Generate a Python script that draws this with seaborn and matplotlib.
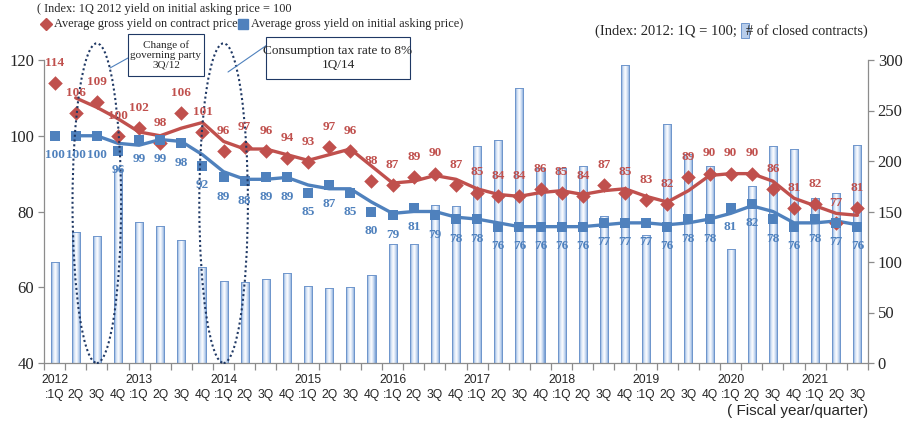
import numpy as np
import pandas as pd
import matplotlib
matplotlib.use("Agg")
import matplotlib.pyplot as plt
import seaborn as sns
from matplotlib.patches import Ellipse, Rectangle
from matplotlib.lines import Line2D
from matplotlib.colors import LinearSegmentedColormap

# ---------------- data ----------------
years = ["2012", "2013", "2014", "2015", "2016", "2017", "2018", "2019", "2020", "2021"]
quarter_names = [":1Q", "2Q", "3Q", "4Q"]
quarters = (quarter_names * 10)[:39]
year_of_quarter = [y for y in years for _ in range(4)][:39]

contract_yield = [114, 106, 109, 100, 102, 98, 106, 101, 96, 97, 96, 94, 93, 97, 96, 88,
                  87, 89, 90, 87, 85, 84, 84, 86, 85, 84, 87, 85, 83, 82, 89, 90,
                  90, 90, 86, 81, 82, 77, 81]
asking_yield = [100, 100, 100, 96, 99, 99, 98, 92, 89, 88, 89, 89, 85, 87, 85, 80,
                79, 81, 79, 78, 78, 76, 76, 76, 76, 76, 77, 77, 77, 76, 78, 78,
                81, 82, 78, 76, 78, 77, 76]
closed_contracts = [100, 130, 126, 192, 140, 136, 122, 95, 81, 80, 83, 89, 76, 74, 75, 87,
                    118, 118, 156, 155, 215, 221, 272, 193, 193, 195, 146, 295,
                    127, 237, 207, 195, 113, 175, 215, 212, 163, 168, 216]

RED = "#C0504D"
BLUE = "#4F81BD"
NAVY = "#1F3864"
GRAY = "#8C8C8C"

n = len(contract_yield)
df = pd.DataFrame({
    "pos": np.arange(n),
    "quarter": quarters,
    "contracts": closed_contracts,
    "contract": contract_yield,
    "asking": asking_yield,
})
# Excel-style 2-period moving-average trend lines
df["contract_ma"] = df["contract"].rolling(2).mean()
df["asking_ma"] = df["asking"].rolling(2).mean()

# ---------------- figure ----------------
sns.set_theme(style="white")
plt.rcParams["font.family"] = ["Liberation Serif", "DejaVu Sans"]
SANS = ["Liberation Sans", "DejaVu Sans"]

W, H = 910, 422
fig = plt.figure(figsize=(W / 100, H / 100), dpi=100)
fig.patch.set_facecolor("white")


def fx(x):
    return x / W


def fy(y):
    return 1 - y / H


L, R, T, B = 44, 868, 60, 363
ax = fig.add_axes([fx(L), fy(B), (R - L) / W, (B - T) / H])
ax2 = ax.twinx()

# bars (# of closed contracts) on the right-hand scale
sns.barplot(data=df, x="pos", y="contracts", ax=ax, native_scale=True, width=0.38,
            color="#C6D9F1", saturation=1, edgecolor="#6F96CC", linewidth=0.7)

cmap = LinearSegmentedColormap.from_list("bar", ["#739BD2", "#D3E2F5", "#FFFFFF", "#C4D7F0", "#739BD2"])
grad = np.linspace(0, 1, 64).reshape(1, -1)
for p in list(ax.patches):
    x0, y0 = p.get_x(), p.get_y()
    w, h = p.get_width(), p.get_height()
    im = ax.imshow(grad, extent=[x0, x0 + w, y0, y0 + h], cmap=cmap, aspect="auto",
                   zorder=1.5, interpolation="bilinear")
    im.set_clip_path(p)
    p.set_facecolor("none")
    p.set_zorder(2)

ax.set_xlim(-0.5, n - 0.5)
ax.set_ylim(0, 300)
ax.set_yticks(range(0, 301, 50))
ax.yaxis.tick_right()
ax.yaxis.set_label_position("right")
ax.set_xlabel("")
ax.set_ylabel("")

# yields on the left-hand scale
sns.lineplot(data=df, x="pos", y="contract_ma", ax=ax2, color=RED, lw=2.4, zorder=2)
sns.lineplot(data=df, x="pos", y="asking_ma", ax=ax2, color=BLUE, lw=2.4, zorder=2.1)
sns.scatterplot(data=df, x="pos", y="contract", ax=ax2, marker="D", s=55, color=RED,
                linewidth=0, zorder=3)
sns.scatterplot(data=df, x="pos", y="asking", ax=ax2, marker="s", s=55, color=BLUE,
                linewidth=0, zorder=3.1)
ax2.set_ylim(40, 120)
ax2.set_yticks(range(40, 121, 20))
ax2.yaxis.tick_left()
ax2.yaxis.set_label_position("left")
ax2.set_xlim(-0.5, n - 0.5)
ax2.set_xlabel("")
ax2.set_ylabel("")

for i, (c, a) in enumerate(zip(contract_yield, asking_yield)):
    ax2.annotate(f"{c}", (i, c), xytext=(0, 14.5), textcoords="offset points",
                 ha="center", va="center", fontsize=9.5, fontweight="bold", color=RED, zorder=6)
    ax2.annotate(f"{a}", (i, a), xytext=(0, -14), textcoords="offset points",
                 ha="center", va="center", fontsize=9.5, fontweight="bold", color=BLUE, zorder=6)

# axes styling
for s in ["top", "left"]:
    ax.spines[s].set_visible(False)
for s in ["top", "right", "bottom"]:
    ax2.spines[s].set_visible(False)
ax.spines["bottom"].set_color(GRAY)
ax.spines["right"].set_color(GRAY)
ax2.spines["left"].set_color(GRAY)
for s in ["bottom", "right"]:
    ax.spines[s].set_linewidth(0.9)
ax2.spines["left"].set_linewidth(0.9)

ax.tick_params(axis="y", which="major", direction="out", length=4, width=0.9, color=GRAY,
               labelsize=12, pad=3, right=True, left=False)
ax2.tick_params(axis="y", which="major", direction="out", length=4, width=0.9, color=GRAY,
                labelsize=12, pad=3, left=True, right=False)
ax.grid(False)
ax2.grid(False)

ax.set_xticks(df["pos"])
ax.set_xticklabels(quarters, fontfamily=SANS, fontsize=8.7)
ax.set_xticks(np.arange(-0.5, n, 1), minor=True)
ax.tick_params(axis="x", which="major", length=0, pad=18.5)
ax.tick_params(axis="x", which="minor", direction="out", length=5, width=0.9, color=GRAY, bottom=True)
ax2.tick_params(axis="x", which="both", bottom=False, labelbottom=False)

for i, q in enumerate(quarters):
    if q == ":1Q":
        ax.text(i, -0.056, year_of_quarter[i], transform=ax.get_xaxis_transform(),
                ha="center", va="center", fontsize=8.7, fontfamily=SANS)

fig.text(fx(868), fy(411), "( Fiscal year/quarter)", ha="right", va="center",
         fontsize=11, fontfamily=SANS)

# dotted ellipses marking events
for cx in [2, 8]:
    e = Ellipse((cx, 82.2), width=2.3, height=84.4, fill=False, edgecolor=NAVY,
                linestyle=(0, (1, 1.3)), lw=1.5, clip_on=False, zorder=5)
    ax2.add_patch(e)

# annotation boxes
boxes = [((128, 34, 76, 42), "Change of\ngoverning party\n3Q/12", 8.0),
         ((266, 37, 144, 42), "Consumption tax rate to 8%\n1Q/14", 9.5)]
for (bx, by, bw, bh), txt, fs in boxes:
    fig.add_artist(Rectangle((fx(bx), fy(by + bh)), bw / W, bh / H, transform=fig.transFigure,
                             facecolor="white", edgecolor=NAVY, lw=0.8, zorder=7))
    fig.text(fx(bx + bw / 2), fy(by + bh / 2), txt, ha="center", va="center",
             fontsize=fs, linespacing=1.15, zorder=8)
for (x1, y1, x2, y2) in [(128, 58, 110, 68), (267, 45, 228, 72)]:
    fig.add_artist(Line2D([fx(x1), fx(x2)], [fy(y1), fy(y2)], transform=fig.transFigure,
                          color=BLUE, lw=0.8))

# header texts / legend
fig.text(fx(37), fy(9), "( Index: 1Q 2012 yield on initial asking price = 100", ha="left",
         va="center", fontsize=8.8)
fig.add_artist(Line2D([fx(46)], [fy(24)], marker="D", markersize=6.5, color=RED,
                      transform=fig.transFigure, linestyle="none"))
fig.text(fx(54), fy(24), "Average gross yield on contract price", ha="left", va="center",
         fontsize=8.8)
fig.add_artist(Line2D([fx(243)], [fy(24)], marker="s", markersize=7, color=BLUE,
                      transform=fig.transFigure, linestyle="none"))
fig.text(fx(251), fy(24), "Average gross yield on initial asking price)", ha="left",
         va="center", fontsize=8.8)

fig.text(fx(595), fy(31), "(Index: 2012: 1Q = 100;", ha="left", va="center", fontsize=10.5)
fig.text(fx(868), fy(31), "# of closed contracts)", ha="right", va="center", fontsize=10.3)
icon = Rectangle((fx(741), fy(38)), 8 / W, 15 / H, transform=fig.transFigure,
                 facecolor="#B7CDEB", edgecolor="#6F96CC", lw=0.7)
fig.add_artist(icon)

fig.savefig("out.png", dpi=100, facecolor="white")
